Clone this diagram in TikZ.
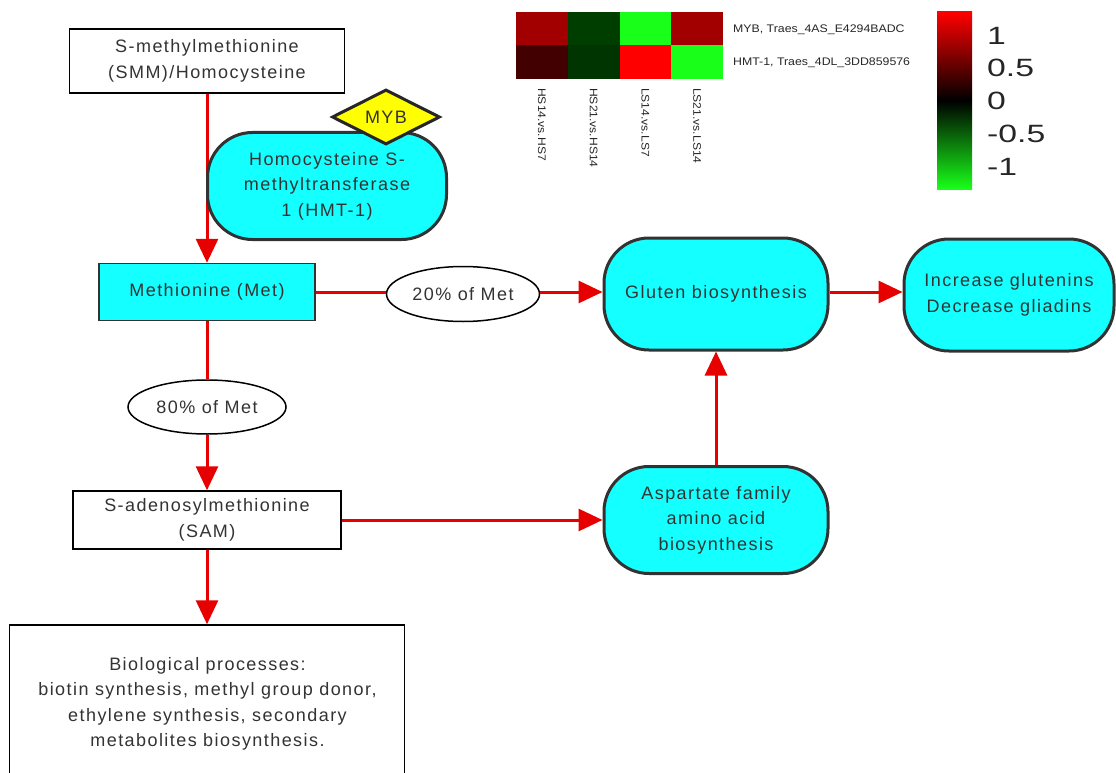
\documentclass[tikz,border=0pt]{standalone}
\usepackage{fontspec}
\setmainfont{Liberation Sans}[LetterSpace=8]
\newfontfamily\plainsans{Liberation Sans}
\usetikzlibrary{shapes.geometric,arrows.meta}
\definecolor{arrred}{RGB}{230,0,0}
\definecolor{boxcyan}{RGB}{20,255,255}
\definecolor{edgegray}{RGB}{50,50,50}
\definecolor{hmA}{RGB}{162,0,0}
\definecolor{hmB}{RGB}{0,62,0}
\definecolor{hmC}{RGB}{25,255,25}
\definecolor{hmD}{RGB}{66,0,0}
\definecolor{hmE}{RGB}{0,52,0}
\definecolor{hmF}{RGB}{255,0,0}
\definecolor{hmyellow}{RGB}{255,255,0}
\tikzset{
  txt/.style={font=\fontsize{18}{25.5}\selectfont, align=center, text=black!80, inner sep=0pt},
  plainbox/.style={txt, draw=black, line width=1.5pt, fill=white, rectangle},
  cyanflat/.style={txt, draw=black!80, line width=1.5pt, fill=boxcyan, rectangle},
  roundbox/.style={txt, draw=edgegray, line width=3pt, fill=boxcyan, rectangle, rounded corners=45pt},
  oval/.style={txt, draw=black, line width=1.5pt, fill=white, ellipse, inner sep=0pt},
  flow/.style={draw=arrred, line width=3pt},
  flowarr/.style={flow, -{Triangle[width=22pt,length=24pt]}},
  cell/.style={rectangle, inner sep=0pt, minimum width=51.75pt, minimum height=33.5pt, draw=none},
  hmlabel/.style={font=\plainsans\fontsize{11}{13}\selectfont, text=black!85, inner sep=0pt},
  scalelabel/.style={font=\plainsans\fontsize{25}{28}\selectfont, text=black!85, inner sep=0pt, anchor=west}
}
\newcommand{\wide}[2]{\scalebox{#1}[1]{#2}}
\begin{document}
\begin{tikzpicture}[x=1pt,y=-1pt]
\useasboundingbox (0,0) rectangle (1116,773);
% nodes
\node[plainbox, minimum width=275pt, minimum height=64pt] (smm) at (207,61) {S-methylmethionine\\(SMM)/Homocysteine};
\node[cyanflat, minimum width=216pt, minimum height=57pt] (met) at (207,292) {Methionine (Met)};
\node[oval, minimum width=153pt, minimum height=55pt] (p20) at (463,294) {20\% of Met};
\node[roundbox, minimum width=224pt, minimum height=112pt] (glu) at (716,294) {Gluten biosynthesis};
\node[roundbox, minimum width=210pt, minimum height=112pt] (inc) at (1009,295) {Increase glutenins\\Decrease gliadins};
\node[oval, minimum width=158pt, minimum height=54pt] (p80) at (207,407) {80\% of Met};
\node[plainbox, minimum width=268pt, minimum height=58pt] (sam) at (207,520) {S-adenosylmethionine\\(SAM)};
\node[roundbox, minimum width=224pt, minimum height=107pt] (asp) at (716,520) {Aspartate family\\amino acid\\biosynthesis};
\node[plainbox, minimum width=395pt, minimum height=170pt] (bio) at (207,710) {};
\node[txt] (biotext) at (207.5,704) {Biological processes:\\biotin synthesis, methyl group donor,\\ethylene synthesis, secondary\\metabolites biosynthesis.};
% connectors
\draw[flowarr] (smm.south) -- (met.north);
\draw[flow] (met.east) -- (met.east -| p20.west);
\draw[flowarr] (met.east -| p20.east) -- (met.east -| glu.west);
\draw[flowarr] (glu.east |- met.east) -- (inc.west |- met.east);
\draw[flow] (met.south) -- (p80.north);
\draw[flowarr] (p80.south) -- (sam.north);
\draw[flowarr] (sam.east) -- (asp.west |- sam.east);
\draw[flowarr] (asp.north) -- (glu.south);
\draw[flowarr] (sam.south) -- (bio.north);
% enzyme and regulator (drawn over the line)
\node[roundbox, minimum width=239pt, minimum height=107pt] (hmt) at (327,186) {Homocysteine S-\\methyltransferase\\1 (HMT-1)};
\node[txt, diamond, draw=black!85, line width=3pt, fill=hmyellow, minimum width=108pt, minimum height=55pt, inner sep=0pt] (myb) at (386,117) {MYB};
% heatmap
\node[cell, fill=hmA] (c11) at (541.875,28.75) {};
\node[cell, fill=hmB] (c12) at (593.625,28.75) {};
\node[cell, fill=hmC] (c13) at (645.375,28.75) {};
\node[cell, fill=hmA] (c14) at (697.125,28.75) {};
\node[cell, fill=hmD] (c21) at (541.875,62.25) {};
\node[cell, fill=hmE] (c22) at (593.625,62.25) {};
\node[cell, fill=hmF] (c23) at (645.375,62.25) {};
\node[cell, fill=hmC] (c24) at (697.125,62.25) {};
\node[hmlabel, anchor=west] (r1) at (733,30) {\wide{1.12}{MYB, Traes\_4AS\_E4294BADC}};
\node[hmlabel, anchor=west] (r2) at (733,63) {\wide{1.12}{HMT-1, Traes\_4DL\_3DD859576}};
\node[hmlabel, rotate=-90, anchor=west] (k1) at (541.875,88) {\wide{1.1}{HS14.vs.HS7}};
\node[hmlabel, rotate=-90, anchor=west] (k2) at (593.625,88) {\wide{1.1}{HS21.vs.HS14}};
\node[hmlabel, rotate=-90, anchor=west] (k3) at (645.375,88) {\wide{1.1}{LS14.vs.LS7}};
\node[hmlabel, rotate=-90, anchor=west] (k4) at (697.125,88) {\wide{1.1}{LS21.vs.LS14}};
% colour scale
\shade[top color=red, bottom color=hmC, middle color=black] (937,12) rectangle (972,189);
\node[scalelabel] (s1) at (987,36) {\wide{1.35}{1}};
\node[scalelabel] (s2) at (987,68) {\wide{1.35}{0.5}};
\node[scalelabel] (s3) at (987,101) {\wide{1.35}{0}};
\node[scalelabel] (s4) at (987,134) {\wide{1.35}{-0.5}};
\node[scalelabel] (s5) at (987,167) {\wide{1.35}{-1}};
\end{tikzpicture}
\end{document}
